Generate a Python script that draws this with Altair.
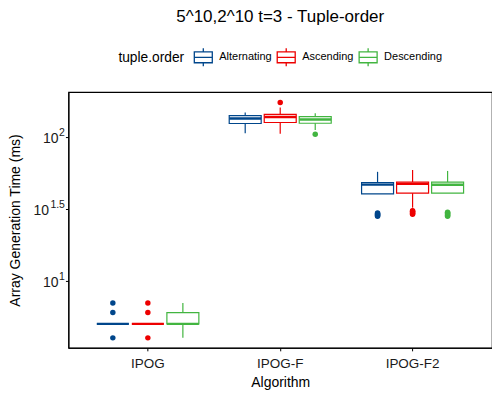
import altair as alt
import pandas as pd

# ---- data ----
algorithms = ["IPOG", "IPOG-F", "IPOG-F2"]
orders = ["Alternating", "Ascending", "Descending"]
colors = ["#00468B", "#ED0000", "#42B540"]

box_algorithm = ["IPOG"] * 3 + ["IPOG-F"] * 3 + ["IPOG-F2"] * 3
box_order = orders * 3
q1 = [5, 5, 5, 123.5, 125.5, 124.0, 40.0, 40.5, 40.5]
median = [5, 5, 5, 133.7, 137.0, 131.6, 46.4, 47.0, 46.3]
q3 = [5, 5, 6, 140.0, 143.0, 137.7, 48.0, 48.4, 48.4]
whisker_low = [5, 5, 4, 105.6, 105.0, 111.3, 40.0, 32.1, 40.5]
whisker_high = [5, 5, 7, 147.0, 159.6, 145.4, 57.0, 58.7, 57.8]

out_algorithm = (["IPOG"] * 6 + ["IPOG-F"] * 2 + ["IPOG-F2"] * 18)
out_order = (["Alternating"] * 3 + ["Ascending"] * 3 + ["Ascending", "Descending"]
             + ["Alternating"] * 6 + ["Ascending"] * 6 + ["Descending"] * 6)
out_value = ([4, 6, 7, 4, 6, 7, 173, 104]
             + [28.0, 28.3, 28.6, 28.9, 29.2, 29.5]
             + [28.9, 29.2, 29.6, 30.0, 30.3, 30.6]
             + [28.0, 28.4, 28.8, 29.2, 29.6, 29.9])

ytick_values = [10, 31.6227766, 100]
ytick_base = ["10", "10", "10"]
ytick_exp = ["1", "1.5", "2"]

boxes = pd.DataFrame({"algorithm": box_algorithm, "order": box_order, "q1": q1,
                      "med": median, "q3": q3, "wlo": whisker_low, "whi": whisker_high})
outliers = pd.DataFrame({"algorithm": out_algorithm, "order": out_order, "value": out_value})
yticks = pd.DataFrame({"v": ytick_values, "base": ytick_base, "exp": ytick_exp})

FONT = "Liberation Sans"
yscale = alt.Scale(type="log", domain=[3.41, 204], nice=False)
xscale = alt.Scale(domain=algorithms, paddingInner=0, paddingOuter=0.1)
oscale = alt.Scale(domain=orders, paddingInner=0, paddingOuter=0.39)
cscale = alt.Scale(domain=orders, range=colors)

xaxis = alt.Axis(title="Algorithm", labelAngle=0, labelFontSize=13.5, labelColor="#1a1a1a",
                 tickSize=3, tickColor="black", labelPadding=6, titleFontSize=14,
                 titleFontWeight="normal", titleColor="black", titlePadding=5, grid=False,
                 domainColor="black")
yaxis = alt.Axis(title="Array Generation Time (ms)", values=ytick_values, labels=False,
                 tickSize=3, tickColor="black", grid=False, domainColor="black",
                 titleFontSize=14, titleFontWeight="normal", titleColor="black", titlePadding=42)

box_path = "M-1,-0.6H1V0.6H-1Z M-1,0H1 M0,-0.6V-1 M0,0.6V1"
legend = alt.Legend(
    title="tuple.order", orient="none", legendX=50, legendY=-45,
    direction="horizontal", titleOrient="left", titleFontSize=13.8,
    titleFontWeight="normal", titleColor="black", titleFont=FONT,
    labelFontSize=11, labelColor="black", labelFont=FONT,
    symbolType=box_path, symbolSize=324, symbolStrokeWidth=1.3,
    symbolFillColor="white", columnPadding=2, labelOffset=6, titlePadding=9)

X = alt.X("algorithm:N", scale=xscale, axis=xaxis)
XO = alt.XOffset("order:N", scale=oscale)
C = alt.Color("order:N", scale=cscale, legend=legend)

box = alt.Chart(boxes).mark_bar(size=32, filled=False, strokeWidth=1.2).encode(
    x=X, xOffset=XO,
    y=alt.Y("q1:Q", scale=yscale, axis=yaxis), y2="q3:Q", color=C)

whisk_lo = alt.Chart(boxes).mark_rule(strokeWidth=1.2).encode(
    x=X, xOffset=XO, y=alt.Y("wlo:Q", scale=yscale), y2="q1:Q", color=C)

whisk_hi = alt.Chart(boxes).mark_rule(strokeWidth=1.2).encode(
    x=X, xOffset=XO, y=alt.Y("q3:Q", scale=yscale), y2="whi:Q", color=C)

med = alt.Chart(boxes).mark_bar(size=32, filled=False, strokeWidth=2.4).encode(
    x=X, xOffset=XO, y=alt.Y("med:Q", scale=yscale), y2="med:Q", color=C)

point_layers = []
for name, col in zip(orders, colors):
    point_layers.append(
        alt.Chart(outliers).transform_filter(alt.datum.order == name)
        .mark_point(filled=True, size=30, opacity=1, color=col)
        .encode(x=X, xOffset=XO, y=alt.Y("value:Q", scale=yscale)))

lab_exp = alt.Chart(yticks).mark_text(align="right", baseline="middle", fontSize=10.5,
                                      dy=-4, color="#1a1a1a", font=FONT).encode(
    x=alt.value(-3.5), y=alt.Y("v:Q", scale=yscale), text="exp:N")
lab_base1 = alt.Chart(yticks).transform_filter("datum.exp != '1.5'").mark_text(
    align="right", baseline="middle", fontSize=14, dy=2, color="#1a1a1a", font=FONT).encode(
    x=alt.value(-10), y=alt.Y("v:Q", scale=yscale), text="base:N")
lab_base2 = alt.Chart(yticks).transform_filter("datum.exp == '1.5'").mark_text(
    align="right", baseline="middle", fontSize=14, dy=2, color="#1a1a1a", font=FONT).encode(
    x=alt.value(-19.5), y=alt.Y("v:Q", scale=yscale), text="base:N")

chart = alt.layer(box, whisk_lo, whisk_hi, med, *point_layers,
                  lab_exp, lab_base1, lab_base2).properties(
    width=424, height=256,
    title=alt.Title("5^10,2^10 t=3 - Tuple-order", fontSize=17, fontWeight="normal",
                    anchor="middle", frame="group", offset=21, color="black", font=FONT),
    autosize=alt.AutoSizeParams(type="none"),
    padding={"left": 60.5, "top": 84, "right": 0, "bottom": 44},
).configure(font=FONT).configure_view(stroke="black", strokeWidth=1.2)

chart.save("out.html", embed_options={"renderer": "svg", "actions": False})
